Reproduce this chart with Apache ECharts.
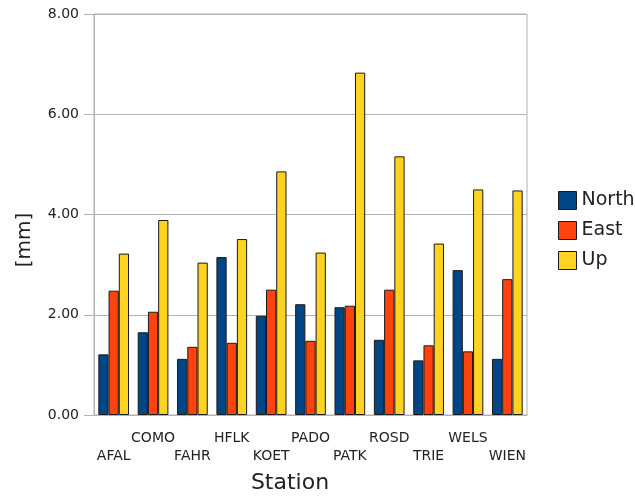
<!DOCTYPE html>
<html><head><meta charset="utf-8">
<script src="https://cdn.jsdelivr.net/npm/echarts@6/dist/echarts.min.js"></script>
<style>html,body{margin:0;padding:0;background:#fff}#c{width:635px;height:496px}</style>
</head><body><div id="c"></div>
<script>
const stations = ['AFAL','COMO','FAHR','HFLK','KOET','PADO','PATK','ROSD','TRIE','WELS','WIEN'];
const north = [1.21,1.65,1.12,3.15,1.98,2.21,2.15,1.50,1.09,2.89,1.12];
const east  = [2.48,2.06,1.36,1.44,2.50,1.48,2.18,2.50,1.39,1.27,2.71];
const up    = [3.22,3.89,3.04,3.51,4.86,3.24,6.83,5.16,3.42,4.50,4.48];
const yTicks = [0,2,4,6,8];

const chart = echarts.init(document.getElementById('c'), null, {renderer:'canvas'});
const font = 'DejaVu Sans';
function bar(name, data, color){
  return {name, type:'bar', data, barGap:'0%', barCategoryGap:'22%',
    itemStyle:{color, borderColor:'#1a1a1a', borderWidth:1}};
}
chart.setOption({
  animation:false,
  textStyle:{fontFamily:font},
  grid:{left:94, right:108, top:14, bottom:81, show:true, borderColor:'#b3b3b3', borderWidth:1},
  legend:{orient:'vertical', left:553, top:186, itemWidth:18, itemHeight:18, itemGap:11,
    icon:'rect', textStyle:{fontFamily:font, fontSize:19, color:'#222'},
    itemStyle:{borderColor:'#1a1a1a', borderWidth:1},
    data:['North','East','Up']},
  xAxis:{type:'category', data:stations,
    axisLine:{lineStyle:{color:'#b3b3b3'}},
    axisTick:{alignWithLabel:true, length:7, lineStyle:{color:'#b3b3b3'}},
    axisLabel:{interval:0, margin:14, fontFamily:font, fontSize:14, color:'#222', lineHeight:18,
      formatter:(v,i)=> i%2===0 ? '\n'+v : v}},
  yAxis:{type:'value', min:yTicks[0], max:yTicks[yTicks.length-1], interval:2,
    axisLine:{show:true, lineStyle:{color:'#b3b3b3'}},
    axisTick:{show:true, length:10, lineStyle:{color:'#b3b3b3'}},
    splitLine:{lineStyle:{color:'#b3b3b3'}},
    axisLabel:{margin:15, fontFamily:font, fontSize:14, color:'#222', formatter:v=>v.toFixed(2)}},
  graphic:[
    {type:'text', x:25, y:240, rotation:Math.PI/2, style:{text:'[mm]', fontFamily:font, fontSize:20, fill:'#222', align:'center', verticalAlign:'middle'}},
    {type:'text', x:290, y:483, style:{text:'Station', fontFamily:font, fontSize:22, fill:'#222', align:'center', verticalAlign:'middle'}}
  ],
  series:[bar('North',north,'#004586'), bar('East',east,'#ff420e'), bar('Up',up,'#ffd320')]
});
</script></body></html>
